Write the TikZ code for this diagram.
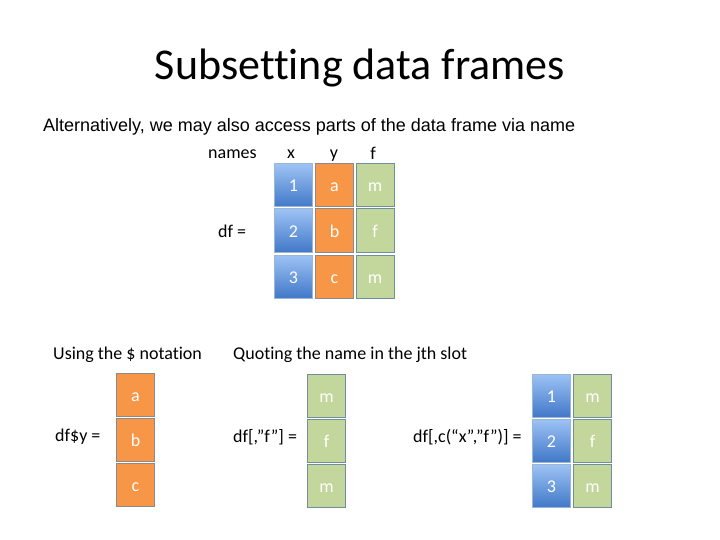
\documentclass[tikz,border=0pt]{standalone}
\usepackage{fontspec}
\setmainfont{Carlito}[Ligatures=NoCommon]
\newfontfamily\arialfont{Liberation Sans}
\usetikzlibrary{positioning}
\definecolor{bluetop}{HTML}{9DC3F5}
\definecolor{bluebot}{HTML}{4178C8}
\definecolor{blueedge}{HTML}{5C86B8}
\definecolor{orangefill}{HTML}{F79646}
\definecolor{orangeedge}{HTML}{8A8A8A}
\definecolor{greenfill}{HTML}{C3D69B}
\definecolor{greenedge}{HTML}{6F8FA0}
\tikzset{
  cell/.style={minimum width=38pt,minimum height=43pt,inner sep=0pt,line width=1pt,
    text height=13pt,text depth=0pt,
    font=\fontsize{18}{20}\selectfont,text=white},
  bluecell/.style={cell,draw=blueedge!60!white,top color=bluetop,bottom color=bluebot},
  orangecell/.style={cell,draw=orangeedge,fill=orangefill},
  greencell/.style={cell,draw=greenedge,fill=greenfill},
  lbl/.style={font=\fontsize{18}{20}\selectfont,inner sep=0pt},
}
\begin{document}
\begin{tikzpicture}[x=1pt,y=-1pt]
\useasboundingbox (0,0) rectangle (720,540);
\node (title) at (360,68) {\fontsize{44}{50}\selectfont Subsetting data frames};
\node[anchor=west,inner sep=0pt] (sub) at (43,127) {\arialfont\fontsize{18}{20}\selectfont Alternatively, we may also access parts of the data frame via name};
% top df
\node[lbl,anchor=base west] (names) at (208,159) {names};
\node[lbl,anchor=base] (hx) at (291,159) {x};
\node[lbl,anchor=base] (hy) at (334,159) {y};
\node[lbl,anchor=base] (hf) at (373,160) {f};
\node[lbl,anchor=west] (dfeq) at (218,231) {df =};
\node[bluecell] (a1) at (293.5,185.5) {1};
\node[bluecell] (a2) at (293.5,230.5) {2};
\node[bluecell] (a3) at (293.5,276.5) {3};
\node[orangecell] (b1) at (334.5,185.5) {a};
\node[orangecell] (b2) at (334.5,230.5) {b};
\node[orangecell] (b3) at (334.5,276.5) {c};
\node[greencell] (c1) at (375,185.5) {m};
\node[greencell] (c2) at (375,230.5) {f};
\node[greencell] (c3) at (375,276.5) {m};
% bottom left
\node[lbl,anchor=west] (using) at (53,355) {Using the \$ notation};
\node[lbl,anchor=west] (dfy) at (55,437) {df\$y =};
\node[orangecell] (d1) at (135.5,394.5) {a};
\node[orangecell] (d2) at (135.5,440) {b};
\node[orangecell] (d3) at (135.5,485) {c};
% middle
\node[lbl,anchor=west] (quoting) at (233,355) {Quoting the name in the jth slot};
\node[lbl,anchor=west] (dff) at (233,437) {df[,”f”] =};
\node[greencell] (e1) at (326.5,395.5) {m};
\node[greencell] (e2) at (326.5,440.5) {f};
\node[greencell] (e3) at (326.5,485.5) {m};
% right
\node[lbl,anchor=west] (dfxf) at (413,437) {df[,c(“x”,”f”)] =};
\node[bluecell] (g1) at (551.5,395.5) {1};
\node[bluecell] (g2) at (551.5,440.5) {2};
\node[bluecell] (g3) at (551.5,486) {3};
\node[greencell] (h1) at (592.5,395.5) {m};
\node[greencell] (h2) at (592.5,440.5) {f};
\node[greencell] (h3) at (592.5,486) {m};
\end{tikzpicture}
\end{document}
